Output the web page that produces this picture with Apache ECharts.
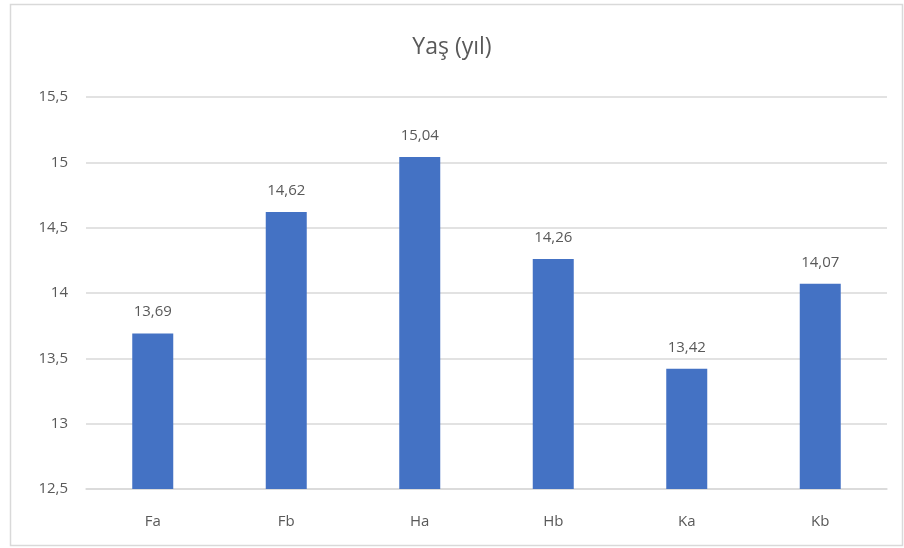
<!DOCTYPE html>
<html>
<head>
<meta charset="utf-8">
<script src="https://cdn.jsdelivr.net/npm/echarts@6/dist/echarts.min.js"></script>
<style>
  html, body { margin: 0; padding: 0; background: #fff; }
  #chart { width: 904px; height: 548px; }
</style>
</head>
<body>
<div id="chart"></div>
<script>
// Mean age per group
const categories = ['Fa', 'Fb', 'Ha', 'Hb', 'Ka', 'Kb'];
const ageValues = [13.69, 14.62, 15.04, 14.26, 13.42, 14.07];
const yTicks = { min: 12.5, max: 15.5, interval: 0.5 };

const fmt = v => String(v).replace('.', ',');
const textColor = '#595959';
const fontFamily = '"Open Sans", "Noto Sans", sans-serif';

const chart = echarts.init(document.getElementById('chart'));
chart.setOption({
  animation: false,
  backgroundColor: '#ffffff',
  graphic: [{
    type: 'rect',
    shape: { x: 10.5, y: 4.5, width: 892, height: 541 },
    style: { fill: 'none', stroke: '#d9d9d9', lineWidth: 1.5 },
    silent: true
  }],
  title: {
    text: 'Yaş (yıl)',
    left: 'center',
    top: 31,
    textStyle: { color: textColor, fontSize: 23, fontWeight: 'normal', fontFamily }
  },
  grid: { left: 86, right: 17, top: 97, bottom: 59, containLabel: false },
  xAxis: {
    type: 'category',
    data: categories,
    axisLine: { lineStyle: { color: '#d9d9d9', width: 1.5 } },
    axisTick: { show: false },
    axisLabel: { color: textColor, fontSize: 15, fontFamily, margin: 25 }
  },
  yAxis: {
    type: 'value',
    min: yTicks.min,
    max: yTicks.max,
    interval: yTicks.interval,
    axisLine: { show: false },
    axisTick: { show: false },
    splitLine: { lineStyle: { color: '#d9d9d9', width: 1.5 } },
    axisLabel: { color: textColor, fontSize: 15, fontFamily, margin: 18, formatter: v => fmt(v) }
  },
  series: [{
    type: 'bar',
    data: ageValues,
    barWidth: 41,
    itemStyle: { color: '#4472C4' },
    label: {
      show: true,
      position: 'top',
      distance: 14,
      color: textColor,
      fontSize: 15,
      fontFamily,
      formatter: p => fmt(p.value.toFixed(2))
    }
  }]
});
</script>
</body>
</html>
